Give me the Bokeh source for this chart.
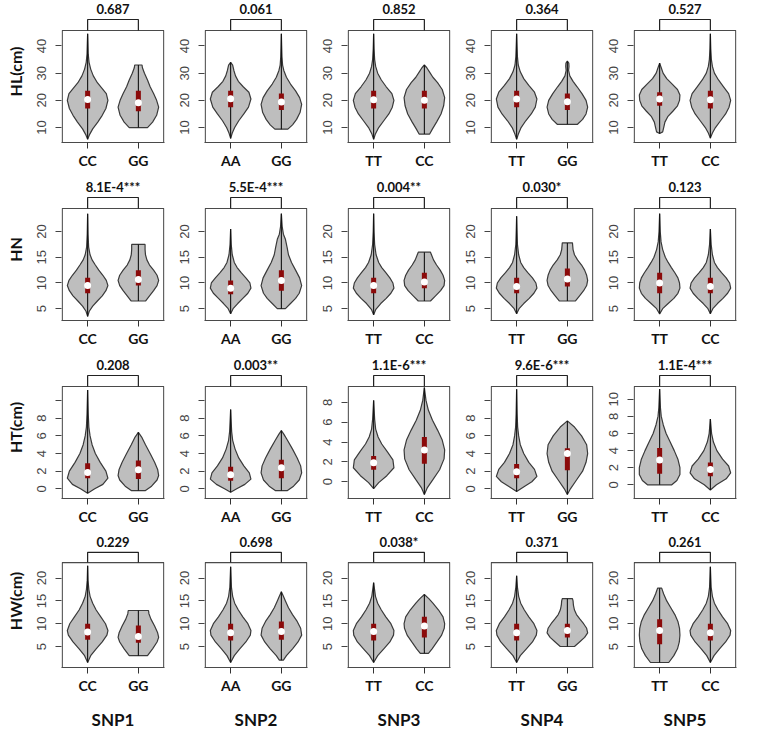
from bokeh.plotting import figure
from bokeh.layouts import gridplot
from bokeh.models import Range1d, FixedTicker
from bokeh.core.properties import value
from bokeh.embed import file_html
from bokeh.resources import INLINE

# ---------------- data ----------------
snps = ["SNP1", "SNP2", "SNP3", "SNP4", "SNP5"]
traits = ["HL(cm)", "HN", "HT(cm)", "HW(cm)"]
genotypes = [["CC", "GG"], ["AA", "GG"], ["TT", "CC"], ["TT", "GG"], ["TT", "CC"]]

p_values = [
    ["0.687", "0.061", "0.852", "0.364", "0.527"],
    ["8.1E-4***", "5.5E-4***", "0.004**", "0.030*", "0.123"],
    ["0.208", "0.003**", "1.1E-6***", "9.6E-6***", "1.1E-4***"],
    ["0.229", "0.698", "0.038*", "0.371", "0.261"],
]

# y limits of each panel box (trait x SNP)
y_limits = [
    [(4.5, 45.7)] * 5,
    [(2.7, 24.5)] * 5,
    [(-1.1, 11.6), (-1.1, 11.6), (-1.7, 9.6), (-1.1, 11.6), (-1.6, 11.5)],
    [(0.4, 23.4)] * 5,
]
y_ticks = [
    [10, 20, 30, 40],
    [5, 10, 15, 20],
    [0, 2, 4, 6, 8, 10],
    [5, 10, 15, 20],
]
ht_hidden_tick_labels = [True, True, False, True, False]

# violin summary: (min, q1, median, q3, max), order SNP1 g1, SNP1 g2, SNP2 g1, ...
HL_stats = [
    (5.7, 17.0, 20.3, 23.5, 44.5), (10.0, 16.0, 19.1, 23.5, 33.0),
    (6.0, 17.5, 20.6, 23.5, 34.0), (9.4, 16.5, 19.4, 22.5, 44.5),
    (5.7, 17.0, 20.2, 23.5, 44.5), (7.6, 17.0, 20.0, 23.5, 33.0),
    (5.7, 17.5, 20.5, 23.5, 44.5), (11.2, 16.5, 19.5, 22.5, 34.4),
    (7.8, 18.0, 20.5, 23.0, 33.7), (6.1, 17.0, 20.2, 23.5, 44.5),
]
HN_stats = [
    (3.5, 8.0, 9.5, 11.0, 23.5), (6.5, 9.5, 10.7, 12.5, 17.5),
    (4.0, 7.8, 9.0, 10.5, 20.5), (5.0, 8.5, 10.5, 12.5, 23.5),
    (3.8, 8.0, 9.5, 11.0, 23.5), (6.5, 9.0, 10.2, 12.0, 16.0),
    (4.0, 8.0, 9.3, 11.0, 23.0), (6.5, 9.3, 10.8, 12.8, 17.8),
    (4.0, 8.0, 10.0, 12.0, 23.5), (4.0, 8.0, 9.3, 11.0, 20.5),
]
HT_stats = [
    (-0.5, 1.2, 1.85, 2.9, 11.2), (-0.2, 1.1, 2.15, 3.2, 6.4),
    (-0.4, 0.9, 1.6, 2.5, 9.0), (-0.2, 1.2, 2.4, 3.3, 6.6),
    (-0.7, 1.2, 1.9, 2.6, 8.2), (-1.3, 1.8, 3.2, 4.5, 9.5),
    (-0.3, 1.2, 1.93, 2.8, 11.3), (-0.65, 2.1, 4.0, 4.6, 7.7),
    (0.0, 1.3, 2.9, 4.3, 11.2), (-0.6, 1.0, 1.8, 2.6, 7.7),
]
HW_stats = [
    (1.5, 6.5, 8.2, 10.0, 22.7), (3.0, 5.8, 7.2, 9.6, 12.9),
    (1.5, 6.3, 8.0, 10.0, 22.5), (2.0, 6.5, 8.3, 10.5, 17.0),
    (1.5, 6.3, 8.3, 10.0, 19.0), (3.5, 7.0, 9.5, 11.5, 16.4),
    (1.5, 6.3, 8.0, 10.0, 20.5), (5.0, 7.0, 8.5, 10.0, 15.5),
    (1.5, 5.5, 8.5, 11.0, 17.8), (1.5, 6.3, 8.0, 10.0, 22.5),
]

# density outline: (value, relative half width)
HL_shapes = [
    [(5.7, 0), (7.5, .1), (9.5, .25), (12, .5), (14.5, .72), (17, .9), (20, 1), (22.5, .92), (24.5, .7), (26.5, .48), (29, .28), (31.5, .15), (34, .07), (37, .03), (41, .015), (44.5, 0)],
    [(10, .45), (12, .7), (14.5, .9), (17.5, 1), (20, .9), (22.5, .75), (25, .58), (27.5, .45), (30, .3), (32, .2), (33, .18)],
    [(6, 0), (8, .08), (10, .2), (12.5, .4), (15, .65), (17.5, .88), (20.5, 1), (23, .9), (25, .62), (27, .38), (29, .24), (31, .16), (33, .1), (34, 0)],
    [(9.4, .32), (11, .55), (13, .75), (15.5, .92), (18.5, 1), (21, .9), (23.5, .7), (26, .45), (28.5, .25), (31, .12), (33, .06), (36, .03), (40, .015), (44.5, 0)],
    [(5.7, 0), (7.5, .08), (10, .25), (12.5, .5), (15, .75), (17.5, .92), (20, 1), (22.5, .9), (25, .62), (27.5, .38), (30, .2), (32.5, .1), (35, .05), (39, .02), (44.5, 0)],
    [(7.6, .26), (9.5, .4), (12, .6), (15, .82), (18, .95), (21, 1), (24, .88), (26.5, .65), (28.5, .42), (30.5, .25), (32, .12), (33, 0)],
    [(5.7, 0), (7.5, .08), (10, .22), (12.5, .45), (15, .72), (17.5, .92), (20.5, 1), (23, .88), (25.5, .6), (28, .35), (30.5, .18), (33, .08), (36, .04), (40, .02), (44.5, 0)],
    [(11.2, .5), (13, .75), (15, .92), (17.5, 1), (20, .92), (22.5, .72), (25, .48), (27, .28), (29, .12), (31, .06), (32.5, .08), (33.7, .07), (34.4, 0)],
    [(7.8, 0), (8.4, .15), (10, .2), (12, .26), (14, .4), (16, .65), (18, .88), (20, .98), (22, 1), (24, .88), (26, .62), (28, .35), (30, .17), (32, .08), (33.7, 0)],
    [(6.1, 0), (8, .1), (10, .25), (12.5, .5), (15, .75), (17.5, .92), (20, 1), (22.5, .9), (25, .65), (27.5, .4), (30, .2), (32.5, .1), (35, .05), (39, .02), (44.5, 0)],
]
HN_shapes = [
    [(3.5, 0), (4.5, .08), (5.5, .25), (6.5, .48), (7.5, .72), (8.5, .9), (9.5, 1), (10.5, .92), (11.5, .75), (12.5, .55), (13.5, .38), (14.5, .22), (15.5, .12), (17, .05), (19.5, .02), (23.5, 0)],
    [(6.5, .36), (7.5, .55), (8.5, .75), (9.5, .92), (10.5, 1), (11.5, .92), (12.5, .75), (13.5, .55), (14.5, .42), (15.5, .35), (16.5, .33), (17.5, .33)],
    [(4, 0), (5, .12), (6, .35), (7, .6), (8, .85), (9, 1), (10, .95), (11, .75), (12, .52), (13, .32), (14, .18), (15.5, .08), (17.5, .03), (20.5, 0)],
    [(5, .2), (6, .45), (7, .7), (8, .88), (9.5, 1), (11, .9), (12.5, .7), (14, .5), (15.5, .35), (17, .28), (18.5, .2), (19.5, .1), (21, .04), (23.5, 0)],
    [(3.8, 0), (4.8, .1), (6, .35), (7, .62), (8, .85), (9, 1), (10, .95), (11, .8), (12, .6), (13, .4), (14, .25), (15.5, .12), (17.5, .05), (20, .02), (23.5, 0)],
    [(6.5, .3), (7.5, .55), (8.5, .8), (9.5, .97), (10.5, 1), (11.5, .92), (12.5, .78), (13.5, .6), (14.5, .45), (15.5, .35), (16, .3)],
    [(4, 0), (5, .12), (6, .35), (7, .62), (8, .85), (9, 1), (10, .95), (11, .78), (12, .55), (13, .35), (14, .2), (15.5, .1), (17.5, .04), (20, .02), (23, 0)],
    [(6.5, .4), (7.5, .6), (8.5, .8), (9.5, .95), (10.5, 1), (11.5, .95), (12.5, .85), (13.5, .7), (14.5, .5), (15.5, .35), (16.5, .28), (17.8, .25)],
    [(4, 0), (5, .15), (6, .42), (7, .7), (8, .9), (9, 1), (10, .98), (11, .9), (12, .75), (13, .58), (14, .42), (15, .28), (16.5, .15), (18, .07), (20, .03), (23.5, 0)],
    [(4, 0), (5, .12), (6, .35), (7, .62), (8, .85), (9, 1), (10, .95), (11, .78), (12, .55), (13, .35), (14, .2), (15.5, .1), (17.5, .04), (20.5, 0)],
]
HT_shapes = [
    [(-0.5, 0), (0, .35), (0.5, .75), (1.2, 1), (2, .9), (3, .62), (4, .38), (5, .22), (6, .12), (7, .06), (8.5, .03), (11.2, 0)],
    [(-0.2, .35), (0.3, .65), (1, .92), (1.5, 1), (2.2, .95), (3, .8), (4, .58), (5, .35), (5.8, .18), (6.4, 0)],
    [(-0.4, 0), (0, .3), (0.5, .7), (1.1, 1), (1.8, .92), (2.6, .65), (3.5, .4), (4.5, .22), (5.5, .1), (6.5, .05), (9, 0)],
    [(-0.2, .3), (0.3, .6), (1, .88), (1.8, 1), (2.6, .95), (3.5, .78), (4.5, .55), (5.5, .3), (6.2, .12), (6.6, 0)],
    [(-0.7, 0), (-0.1, .25), (0.6, .65), (1.4, 1), (2.2, .95), (3, .68), (3.8, .4), (4.5, .22), (5.3, .1), (6.3, .05), (8.2, 0)],
    [(-1.3, 0), (-0.6, .15), (0.2, .42), (1.2, .75), (2.3, .97), (3.2, 1), (4.2, .88), (5.2, .65), (6.2, .4), (7.2, .2), (8.2, .08), (9.5, 0)],
    [(-0.3, 0), (0.3, .4), (0.8, .75), (1.4, 1), (2.2, .88), (3, .6), (4, .35), (5, .18), (6, .1), (7, .05), (8.5, .025), (11.3, 0)],
    [(-0.65, 0), (0, .15), (1, .45), (2, .75), (3, .92), (4, 1), (5, .95), (6, .7), (7, .35), (7.7, 0)],
    [(0, .6), (0.5, .85), (1.2, 1), (2, 1), (3, .9), (4, .72), (5, .52), (6, .32), (7, .18), (8, .08), (9, .04), (11.2, 0)],
    [(-0.6, 0), (0, .3), (0.7, .78), (1.4, 1), (2.2, .9), (3, .6), (4, .32), (5, .15), (6, .06), (7.7, 0)],
]
HW_shapes = [
    [(1.5, 0), (3, .15), (4.5, .42), (6, .72), (7.5, .95), (8.5, 1), (10, .88), (11.5, .65), (13, .42), (14.5, .25), (16, .12), (17.5, .06), (19.5, .02), (22.7, 0)],
    [(3, .45), (4.5, .7), (6, .92), (7, 1), (8, .95), (9.5, .8), (11, .62), (12.2, .52), (12.9, .5)],
    [(1.5, 0), (3, .18), (4.5, .45), (6, .75), (7.5, .97), (8.5, 1), (10, .85), (11.5, .6), (13, .38), (14.5, .2), (16, .1), (18, .04), (22.5, 0)],
    [(2, .1), (3, .25), (4.5, .55), (6, .82), (7.5, 1), (9, .95), (10.5, .78), (12, .55), (13.5, .35), (15, .2), (16, .1), (17, 0)],
    [(1.5, 0), (3, .2), (4.5, .5), (6, .8), (7.5, .98), (8.5, 1), (10, .85), (11.5, .6), (13, .38), (14.5, .2), (16, .09), (19, 0)],
    [(3.5, .2), (4.5, .38), (6, .62), (7.5, .85), (9, .98), (10, 1), (11.5, .92), (13, .7), (14.5, .42), (15.5, .22), (16.4, 0)],
    [(1.5, 0), (3, .18), (4.5, .48), (6, .78), (7.5, .97), (8.5, 1), (10, .85), (11.5, .6), (13, .38), (14.5, .2), (16, .1), (18, .04), (20.5, 0)],
    [(5, .35), (6, .6), (7, .85), (8, 1), (9, .95), (10, .8), (11, .62), (12, .45), (13, .35), (14, .3), (15, .28), (15.5, .25)],
    [(1.5, .45), (3, .7), (4.5, .88), (6, .97), (7.5, 1), (9, .98), (10.5, .9), (12, .75), (13.5, .55), (15, .35), (16.5, .2), (17.8, .1)],
    [(1.5, 0), (3, .18), (4.5, .45), (6, .75), (7.5, .97), (8.5, 1), (10, .85), (11.5, .6), (13, .38), (14.5, .2), (16, .1), (18, .04), (22.5, 0)],
]

all_stats = [HL_stats, HN_stats, HT_stats, HW_stats]
all_shapes = [HL_shapes, HN_shapes, HT_shapes, HW_shapes]

# ---------------- style ----------------
FILL = "#bebebe"
EDGE = "#3a3a3a"
IQR_COLOR = "#8b0a0a"
BOLD_FONT = "Lato"
TICK_FONT = "Liberation Sans"
HALF_W = 0.4

FRAME_W = 103
FRAME_H = 142
EXT_PX = 30          # space above the box for bracket and p-value
PAD = 0.015

def add_violin(p, c, shape, st):
    vs = [s[0] for s in shape]
    ws = [s[1] * HALF_W for s in shape]
    xs = [c + w for w in ws] + [c - w for w in reversed(ws)]
    ys = vs + vs[::-1]
    p.patch(xs, ys, fill_color=FILL, line_color=EDGE, line_width=1.2)
    p.segment(x0=[c], y0=[st[0]], x1=[c], y1=[st[4]], line_color="#111111", line_width=1.1)
    p.segment(x0=[c], y0=[st[1]], x1=[c], y1=[st[3]], line_color=IQR_COLOR, line_width=5, line_cap="butt")
    p.scatter([c], [st[2]], size=7, fill_color="white", line_color=None)

rows = []
for r, trait in enumerate(traits):
    row = []
    last = (r == len(traits) - 1)
    for c, snp in enumerate(snps):
        ylo, yhi = y_limits[r][c]
        box_px = FRAME_H - EXT_PX
        ppu = box_px / (yhi - ylo)
        ytop = yhi + EXT_PX / ppu
        left = 61 if c == 0 else 39
        bottom = 56 if last else 36
        p = figure(width=left + FRAME_W + 1, height=FRAME_H + bottom,
                   x_range=Range1d(0.5 - PAD, 2.5 + PAD), y_range=Range1d(ylo, ytop),
                   output_backend="svg", toolbar_location=None, title=None,
                   min_border_left=left, min_border_right=1, min_border_top=0,
                   min_border_bottom=bottom)
        p.outline_line_color = None
        p.grid.visible = False
        p.background_fill_color = "white"
        p.border_fill_color = "white"

        # box
        p.line([0.5, 0.5, 2.5, 2.5], [ylo, yhi, yhi, ylo], line_color="#4a4a4a", line_width=1.2)

        # violins
        for k in range(2):
            idx = c * 2 + k
            add_violin(p, k + 1, all_shapes[r][idx], all_stats[r][idx])

        # bracket and p-value
        yb = yhi + 11 / ppu
        p.line([1, 1, 2, 2], [yhi, yb, yb, yhi], line_color="#222222", line_width=1.2)
        p.text(x=[1.5], y=[yhi + 22 / ppu], text=[p_values[r][c]],
               text_font=value(BOLD_FONT), text_font_style="bold", text_font_size="13px",
               text_align="center", text_baseline="middle", text_color="#111111")

        # x axis
        xa = p.xaxis[0]
        xa.ticker = FixedTicker(ticks=[1, 2])
        xa.major_label_overrides = {1: genotypes[c][0], 2: genotypes[c][1]}
        xa.major_label_text_font = BOLD_FONT
        xa.major_label_text_font_style = "bold"
        xa.major_label_text_font_size = "14px"
        xa.major_label_text_color = "#111111"
        xa.major_tick_out = 6
        xa.major_tick_in = 0
        xa.minor_tick_out = 0
        xa.minor_tick_in = 0
        xa.major_label_standoff = 3
        xa.axis_line_color = "#4a4a4a"
        xa.axis_line_width = 1.2
        xa.major_tick_line_color = "#333333"
        if last:
            xa.axis_label = snp
            xa.axis_label_text_font = BOLD_FONT
            xa.axis_label_text_font_style = "bold"
            xa.axis_label_text_font_size = "17px"
            xa.axis_label_text_color = "#111111"
            xa.axis_label_standoff = 12

        # y axis
        ya = p.yaxis[0]
        ticks = [t for t in y_ticks[r] if ylo <= t <= yhi]
        ya.ticker = FixedTicker(ticks=ticks)
        if r == 2 and ht_hidden_tick_labels[c]:
            ya.major_label_overrides = {10: ""}
        ya.major_label_orientation = "vertical"
        ya.major_label_text_font = TICK_FONT
        ya.major_label_text_font_size = "13px"
        ya.major_label_text_color = "#444444"
        ya.major_tick_out = 6
        ya.major_tick_in = 0
        ya.minor_tick_out = 0
        ya.minor_tick_in = 0
        ya.major_label_standoff = 9
        ya.axis_line_color = None
        ya.major_tick_line_color = "#444444"
        if c == 0:
            ya.axis_label = trait
            ya.axis_label_text_font = BOLD_FONT
            ya.axis_label_text_font_style = "bold"
            ya.axis_label_text_font_size = "16px"
            ya.axis_label_text_color = "#111111"
            ya.axis_label_standoff = 10
        row.append(p)
    rows.append(row)

grid = gridplot(rows, toolbar_location=None)
open("out.html", "w").write(file_html(grid, INLINE))
